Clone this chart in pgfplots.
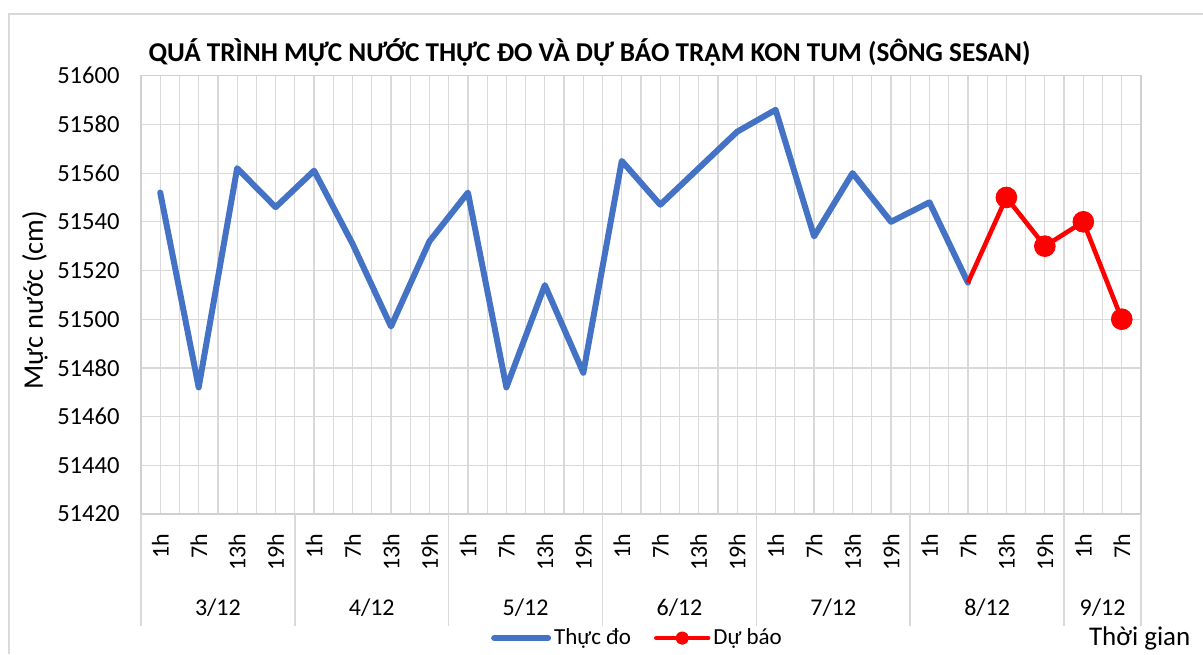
\documentclass[border=0pt]{standalone}
\usepackage{pgfplots}
\pgfplotsset{compat=1.18}
\usepackage{fontspec}
\setmainfont{Carlito}
\definecolor{blueline}{HTML}{4472C4}
\definecolor{gridc}{HTML}{D9D9D9}
\definecolor{axc}{HTML}{D0D0D0}
\begin{document}
\begin{tikzpicture}
\path[use as bounding box] (0,0) rectangle (601.5pt,327pt);
\draw[gridc, line width=1pt] (4.5pt,0pt) -- (4.5pt,320pt) -- (601.5pt,320pt);
\node[font=\fontsize{13.6}{16}\selectfont\bfseries] at (294.75pt,301pt) {QUÁ TRÌNH MỰC NƯỚC THỰC ĐO VÀ DỰ BÁO TRẠM KON TUM (SÔNG SESAN)};
\begin{axis}[
  at={(70.5pt,70pt)}, anchor=south west,
  scale only axis, width=500pt, height=219.15pt,
  xmin=-0.5, xmax=25.5, ymin=51420, ymax=51600,
  xtick={0,...,25},
  xticklabels={1h,7h,13h,19h,1h,7h,13h,19h,1h,7h,13h,19h,1h,7h,13h,19h,1h,7h,13h,19h,1h,7h,13h,19h,1h,7h},
  minor x tick num=1,
  ytick={51420,51440,...,51600},
  scaled y ticks=false,
  xmajorgrids, xminorgrids, ymajorgrids,
  grid style={gridc, line width=0.6pt},
  minor grid style={gridc, line width=0.6pt},
  major tick length=0pt, minor tick length=0pt,
  axis line style={axc, line width=0.8pt},
  /pgf/number format/assume math mode=true,
  yticklabel style={font=\fontsize{12.3}{14}\selectfont, /pgf/number format/fixed, /pgf/number format/1000 sep={}, anchor=east, inner sep=0pt, xshift=-10.5pt},
  xticklabel style={font=\fontsize{12}{14}\selectfont, rotate=90, anchor=east, inner sep=0pt},
  xticklabel shift=9.5pt,
  ylabel={Mực nước (cm)},
  every axis y label/.style={at={(axis description cs:-0.106,0.488)}, rotate=90, anchor=center, font=\fontsize{14.2}{16}\selectfont},
  clip=false,
  legend columns=2,
  legend style={at={(0.497,-0.283)}, anchor=center, draw=none, fill=none, font=\fontsize{11.5}{13}\selectfont,
    nodes={inner xsep=1.5pt, inner ysep=1pt},
    /tikz/every even column/.append style={column sep=10pt}},
]
\addplot[blueline, line width=3pt, line join=round, line cap=round, mark=none,
  legend image code/.code={\draw[blueline, line width=3pt, line cap=round] (0pt,0pt) -- (27pt,0pt);}]
  coordinates {
  (0,51552) (1,51472) (2,51562) (3,51546)
  (4,51561) (5,51531) (6,51497) (7,51532)
  (8,51552) (9,51472) (10,51514) (11,51478)
  (12,51565) (13,51547) (14,51562) (15,51577)
  (16,51586) (17,51534) (18,51560) (19,51540)
  (20,51548) (21,51515)
  };
\addlegendentry{Thực đo}
\addplot[red, line width=2.3pt, line join=round, mark=none,
  legend image code/.code={\draw[red, line width=2.2pt, line cap=round] (0pt,0pt) -- (26pt,0pt); \fill[red] (13pt,0pt) circle (2.2pt);}]
  coordinates {(21,51515) (22,51550) (23,51530) (24,51540) (25,51500)};
\addlegendentry{Dự báo}
\addplot[only marks, mark=*, mark size=5.2pt, red, forget plot]
  coordinates {(22,51550) (23,51530) (24,51540) (25,51500)};
\draw[gridc, line width=0.8pt] (axis cs:-0.5,51420) -- ([yshift=-56pt]axis cs:-0.5,51420);
\draw[gridc, line width=0.8pt] (axis cs:3.5,51420) -- ([yshift=-56pt]axis cs:3.5,51420);
\draw[gridc, line width=0.8pt] (axis cs:7.5,51420) -- ([yshift=-56pt]axis cs:7.5,51420);
\draw[gridc, line width=0.8pt] (axis cs:11.5,51420) -- ([yshift=-56pt]axis cs:11.5,51420);
\draw[gridc, line width=0.8pt] (axis cs:15.5,51420) -- ([yshift=-56pt]axis cs:15.5,51420);
\draw[gridc, line width=0.8pt] (axis cs:19.5,51420) -- ([yshift=-56pt]axis cs:19.5,51420);
\draw[gridc, line width=0.8pt] (axis cs:23.5,51420) -- ([yshift=-56pt]axis cs:23.5,51420);
\draw[gridc, line width=0.8pt] (axis cs:25.5,51420) -- ([yshift=-56pt]axis cs:25.5,51420);
\node[font=\fontsize{12}{14}\selectfont, yshift=-47pt] at (axis cs:1.5,51420) {3/12};
\node[font=\fontsize{12}{14}\selectfont, yshift=-47pt] at (axis cs:5.5,51420) {4/12};
\node[font=\fontsize{12}{14}\selectfont, yshift=-47pt] at (axis cs:9.5,51420) {5/12};
\node[font=\fontsize{12}{14}\selectfont, yshift=-47pt] at (axis cs:13.5,51420) {6/12};
\node[font=\fontsize{12}{14}\selectfont, yshift=-47pt] at (axis cs:17.5,51420) {7/12};
\node[font=\fontsize{12}{14}\selectfont, yshift=-47pt] at (axis cs:21.5,51420) {8/12};
\node[font=\fontsize{12}{14}\selectfont, yshift=-47pt] at (axis cs:24.5,51420) {9/12};
\end{axis}
\node[anchor=base west, font=\fontsize{13.5}{16}\selectfont] at (541pt,4.5pt) {Thời gian};
\end{tikzpicture}
\end{document}
